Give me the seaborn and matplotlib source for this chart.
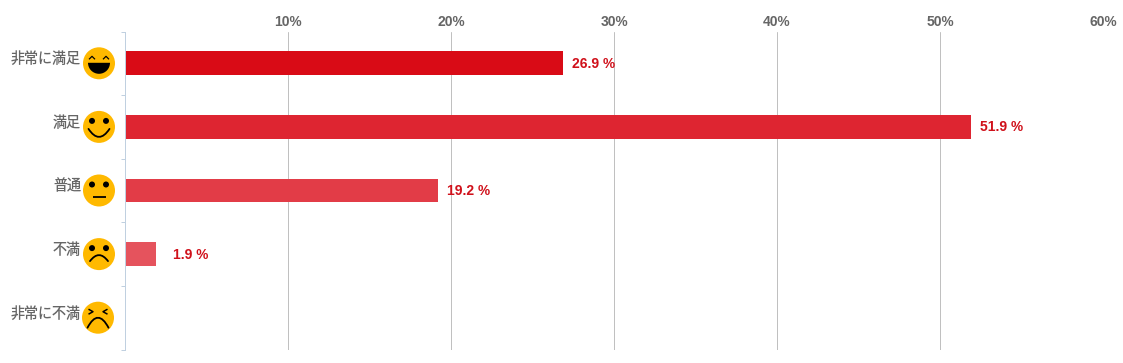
import pandas as pd
import matplotlib
matplotlib.use('Agg')
import matplotlib.pyplot as plt
import seaborn as sns
from matplotlib.offsetbox import AnnotationBbox, DrawingArea
from matplotlib.patches import Circle, PathPatch, Wedge
from matplotlib.path import Path
from matplotlib.lines import Line2D
from matplotlib.transforms import ScaledTranslation

categories = ['非常に満足', '満足', '普通', '不満', '非常に不満']
values = [26.9, 51.9, 19.2, 1.9, 0]
bar_colors = ['#d90b16', '#de2531', '#e23c47', '#e5535d', '#e86a73']
faces = ['laugh', 'smile', 'neutral', 'frown', 'angry']
x_ticks = [10, 20, 30, 40, 50, 60]

sns.set_theme(style='white')
plt.rcParams['font.family'] = ['Liberation Sans', 'DejaVu Sans']
plt.rcParams['text.hinting'] = 'no_autohint'

# dpi 72 so that points and pixels are the same thing
fig = plt.figure(figsize=(1123 / 72, 363 / 72), dpi=72)
ax = fig.add_axes([125 / 1123, 1 - 349.5 / 363, 978 / 1123, 318 / 363])

df = pd.DataFrame({'category': categories, 'value': values})
sns.barplot(data=df, x='value', y='category', hue='category', palette=bar_colors,
            saturation=1, width=0.377, legend=False, ax=ax, zorder=3, linewidth=0)

ax.set_xlim(0, 60)
ax.set_ylim(4.5, -0.5)
ax.set_xlabel('')
ax.set_ylabel('')

# x axis on top, percent labels, grey grid
ax.xaxis.tick_top()
ax.set_xticks(x_ticks)
ax.set_xticklabels([f'{t}%' for t in x_ticks])
ax.tick_params(axis='x', length=0, pad=2, labelsize=14, labelcolor='#666666')
for label in ax.get_xticklabels():
    label.set_fontweight('bold')
ax.grid(axis='x', color='#c0c0c0', linewidth=1)
ax.set_axisbelow(True)

for side in ['top', 'right', 'bottom']:
    ax.spines[side].set_visible(False)
ax.spines['left'].set_color('#c0d0e0')
ax.spines['left'].set_linewidth(1)
ax.spines['left'].set_zorder(4)

# ticks sit between categories, labels stay at the category
ax.set_yticks([i - 0.5 for i in range(len(categories) + 1)], minor=True)
ax.tick_params(axis='y', which='minor', left=True, length=4.5, width=1, color='#c0d0e0')
ax.tick_params(axis='y', which='major', left=False, length=0, pad=44,
               labelsize=14, labelcolor='#666666')
shift_up = ScaledTranslation(0, 6 / 72, fig.dpi_scale_trans)
for label in ax.get_yticklabels():
    label.set_family(['Noto Sans CJK JP', 'DejaVu Sans'])
    label.set_transform(label.get_transform() + shift_up)

# value labels
for i, v in enumerate(values):
    if v == 0:
        continue
    pad = 17 if v < 10 else 9
    ax.annotate(f'{v} %', (v, i), xytext=(pad, -1), textcoords='offset points',
                ha='left', va='center', fontsize=14, fontweight='bold',
                color='#d0111b', annotation_clip=False)


def curve(p0, ctrl, p1):
    return PathPatch(Path([p0, ctrl, p1], [Path.MOVETO, Path.CURVE3, Path.CURVE3]),
                     fill=False, edgecolor='black', linewidth=1.8, capstyle='round')


def stroke(xs, ys, lw=1.5):
    return Line2D(xs, ys, color='black', linewidth=lw, solid_capstyle='butt')


def add_face(kind, i):
    area = DrawingArea(36, 36, 0, 0, clip=False)
    c = 18
    area.add_artist(Circle((c, c), 16, facecolor='#ffb900', edgecolor='none'))
    if kind in ('smile', 'neutral', 'frown'):
        area.add_artist(Circle((c - 7, c + 6), 3, facecolor='black', edgecolor='none'))
        area.add_artist(Circle((c + 7, c + 6), 3, facecolor='black', edgecolor='none'))
    if kind == 'laugh':
        for sx in (-7, 7):
            area.add_artist(stroke([c + sx - 3, c + sx, c + sx + 3], [c + 4, c + 7, c + 4], 1.2))
        area.add_artist(Wedge((c, c + 0.5), 11, 180, 360, facecolor='black', edgecolor='none'))
    elif kind == 'smile':
        area.add_artist(curve((c - 10.5, c - 2), (c, c - 18), (c + 10.5, c - 2)))
    elif kind == 'neutral':
        area.add_artist(stroke([c - 6.5, c + 6.5], [c - 6, c - 6], 1.8))
    elif kind == 'frown':
        area.add_artist(curve((c - 9, c - 7), (c, c + 5), (c + 9, c - 7)))
    elif kind == 'angry':
        area.add_artist(stroke([c - 9.5, c - 5, c - 9.5], [c + 8.5, c + 6, c + 3.5]))
        area.add_artist(stroke([c + 9.5, c + 5, c + 9.5], [c + 8.5, c + 6, c + 3.5]))
        area.add_artist(curve((c - 10.5, c - 10), (c, c + 10), (c + 10.5, c - 10)))
    dx = -27 if kind == 'angry' else -26
    box = AnnotationBbox(area, (0, i), xycoords=ax.get_yaxis_transform(),
                         xybox=(dx, 0), boxcoords='offset points',
                         frameon=False, pad=0, annotation_clip=False)
    ax.add_artist(box)


for i, kind in enumerate(faces):
    add_face(kind, i)

fig.savefig('out.png', dpi=72, facecolor='white')
